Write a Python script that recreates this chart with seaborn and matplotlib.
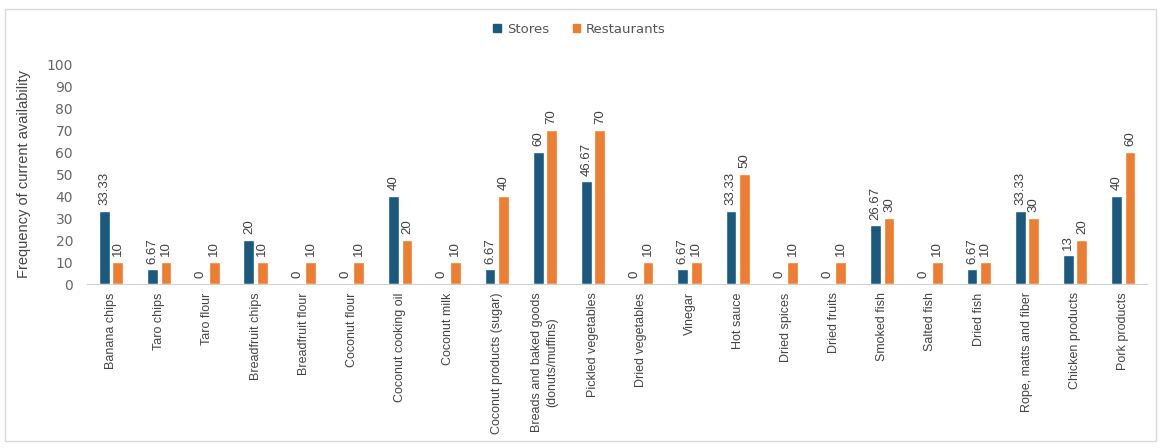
import numpy as np
import pandas as pd
import matplotlib.pyplot as plt
import seaborn as sns
from matplotlib.patches import Rectangle

# ========== 数据 ==========
categories = [
    "Banana chips", "Taro chips", "Taro flour", "Breadfruit chips", "Breadfruit flour",
    "Coconut flour", "Coconut cooking oil", "Coconut milk", "Coconut products (sugar)",
    "Breads and baked goods\n(donuts/muffins)", "Pickled vegetables", "Dried vegetables",
    "Vinegar", "Hot sauce", "Dried spices", "Dried fruits", "Smoked fish", "Salted fish",
    "Dried fish", "Rope, matts and fiber", "Chicken products", "Pork products",
]
stores = [33.33, 6.67, 0, 20, 0, 0, 40, 0, 6.67, 60, 46.67, 0,
          6.67, 33.33, 0, 0, 26.67, 0, 6.67, 33.33, 13, 40]
restaurants = [10, 10, 10, 10, 10, 10, 20, 10, 40, 70, 70, 10,
               10, 50, 10, 10, 30, 10, 10, 30, 20, 60]
series = ["Stores", "Restaurants"]
colors = ["#1b5a7e", "#ed7d31"]

df = pd.DataFrame({
    "cat": categories * 2,
    "val": stores + restaurants,
    "series": [series[0]] * len(categories) + [series[1]] * len(categories),
})

sns.set_style("white")
narrow = ["Liberation Sans", "DejaVu Sans"]
plt.rcParams["font.family"] = ["DejaVu Sans"]

fig = plt.figure(figsize=(11.59, 4.48), dpi=100)
ax = fig.add_axes([0.075, 0.366, 0.915, 0.491])

sns.barplot(data=df, x="cat", y="val", hue="series", palette=colors,
            width=0.56, gap=0.2, ax=ax, legend=False, saturation=1)

ax.set_ylim(0, 100)
ax.set_yticks(range(0, 101, 10))
ax.set_xlim(-0.5, len(categories) - 0.5)
ax.tick_params(axis="y", length=0, labelsize=10, labelcolor="#666666", pad=10)
ax.tick_params(axis="x", length=0, pad=6)
ax.set_xticks(range(len(categories)))
ax.set_xticklabels(categories, rotation=90, fontsize=9, color="#444444",
                   family=narrow, linespacing=1.4)
for lab in ax.get_xticklabels():
    lab.set_horizontalalignment("center")
    lab.set_verticalalignment("top")
ax.set_xlabel("")
ax.set_ylabel("Frequency of current availability", fontsize=10.5, color="#444444",
              family=narrow, labelpad=11)
for s in ["top", "right", "left"]:
    ax.spines[s].set_visible(False)
ax.spines["bottom"].set_color("#d0d0d0")

# 数值标签
for cont in ax.containers:
    labels = [f"{v:g}" for v in cont.datavalues]
    ax.bar_label(cont, labels=labels, rotation=90, padding=4, fontsize=9.5,
                 color="#404040", family=narrow)

# 图例
handles = [Rectangle((0, 0), 1, 1, color=c) for c in colors]
fig.legend(handles, series, loc="center", bbox_to_anchor=(0.5, 0.935), ncol=2,
           frameon=False, fontsize=9.5, handlelength=0.6, handleheight=0.6,
           handletextpad=0.4, columnspacing=1.8, labelcolor="#555555")

# 外框
fig.patches.append(Rectangle((0.004, 0.015), 0.993, 0.965, transform=fig.transFigure,
                             fill=False, edgecolor="#d9d9d9", linewidth=1))

fig.savefig("out.png", dpi=100)
